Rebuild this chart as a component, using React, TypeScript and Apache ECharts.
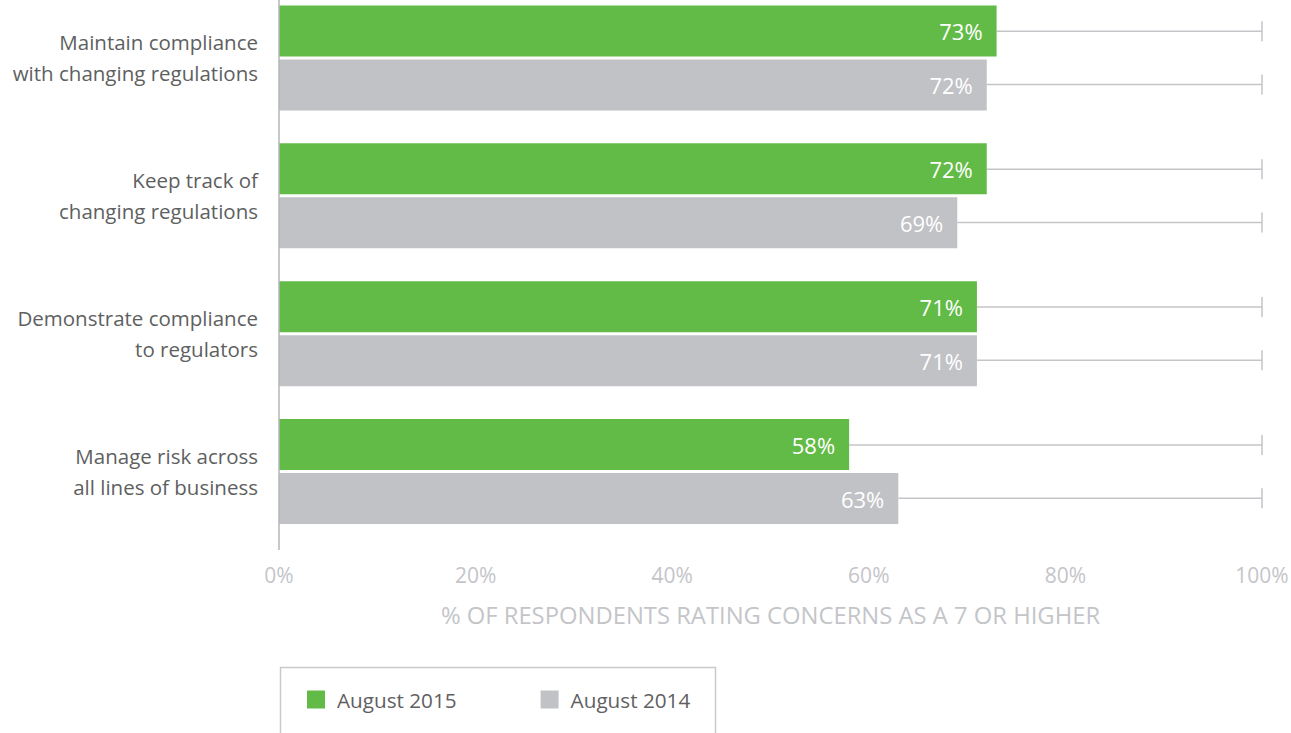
import React, { useEffect, useRef } from "react";
import * as echarts from "echarts";

const categories = [
  "Maintain compliance\nwith changing regulations",
  "Keep track of\nchanging regulations",
  "Demonstrate compliance\nto regulators",
  "Manage risk across\nall lines of business",
];
const august2015 = [73, 72, 71, 58];
const august2014 = [72, 69, 71, 63];
const xTicks = [0, 20, 40, 60, 80, 100];
const seriesNames = ["August 2015", "August 2014"];

const GREEN = "#62bb46";
const GRAY = "#c1c2c5";
const FONT = "'Open Sans', 'Noto Sans', sans-serif";

function trackSeries(values: number[], sign: number) {
  return {
    type: "custom",
    silent: true,
    z: 1,
    data: values.map((v, i) => [v, i]),
    encode: { x: 0, y: 1 },
    renderItem: (params: any, api: any) => {
      const v = api.value(0);
      const c = api.value(1);
      const start = api.coord([v, c]);
      const end = api.coord([100, c]);
      const band = api.size([0, 1])[1];
      const y = start[1] + sign * band * 0.193;
      return {
        type: "group",
        children: [
          {
            type: "line",
            shape: { x1: start[0], y1: y, x2: end[0], y2: y },
            style: { stroke: "#c4c5c8", lineWidth: 1.5 },
          },
          {
            type: "line",
            shape: { x1: end[0], y1: y - 10, x2: end[0], y2: y + 10 },
            style: { stroke: "#c4c5c8", lineWidth: 1.5 },
          },
        ],
      };
    },
  };
}

export default function App() {
  const ref = useRef<HTMLDivElement>(null);
  useEffect(() => {
    if (!ref.current) return;
    const chart = echarts.init(ref.current, null, { renderer: "svg" });
    const barLabel = {
      show: true,
      position: "insideRight",
      distance: 14,
      color: "#ffffff",
      fontSize: 22,
      fontFamily: FONT,
      formatter: "{c}%",
    };
    chart.setOption({
      animation: false,
      textStyle: { fontFamily: FONT },
      grid: {
        left: 279,
        right: 29,
        top: -11,
        height: 551.5,
        containLabel: false,
        outerBoundsMode: "none",
      },
      legend: {
        left: 307,
        top: 689,
        padding: 0,
        itemWidth: 18,
        itemHeight: 18,
        itemGap: 84,
        icon: "rect",
        data: seriesNames,
        textStyle: { fontSize: 20.7, color: "#5f6062", fontFamily: FONT, padding: [0, 0, 0, 7] },
      },
      xAxis: {
        type: "value",
        min: 0,
        max: 100,
        interval: 20,
        axisLine: { show: false },
        axisTick: { show: false },
        splitLine: { show: false },
        axisLabel: {
          fontSize: 21,
          color: "#c4c5c9",
          margin: 24,
          fontFamily: FONT,
          formatter: (v: number) => (xTicks.includes(v) ? v + "%" : ""),
        },
        name: "% OF RESPONDENTS RATING CONCERNS AS A 7 OR HIGHER",
        nameLocation: "middle",
        nameGap: 62,
        nameTextStyle: { fontSize: 23.8, color: "#c4c5c9", fontFamily: FONT },
      },
      yAxis: {
        type: "category",
        inverse: true,
        data: categories,
        axisLine: { show: false },
        axisTick: { show: false },
        axisLabel: {
          fontSize: 20.5,
          lineHeight: 31,
          color: "#5e5f61",
          margin: 21,
          align: "right",
          fontFamily: FONT,
        },
      },
      graphic: [
        {
          type: "line",
          shape: { x1: 279, y1: 0, x2: 279, y2: 550 },
          style: { stroke: "#b5b6b9", lineWidth: 1.5 },
          z: 10,
        },
        {
          type: "rect",
          shape: { x: 280.5, y: 667.5, width: 435, height: 100 },
          style: { fill: "none", stroke: "#c8c9cc", lineWidth: 1.5 },
          z: -1,
        },
      ],
      series: [
        {
          name: seriesNames[0],
          type: "bar",
          data: august2015,
          barWidth: 51,
          barGap: "6%",
          itemStyle: { color: GREEN },
          z: 3,
          label: barLabel,
        },
        {
          name: seriesNames[1],
          type: "bar",
          data: august2014,
          barWidth: 51,
          barGap: "6%",
          itemStyle: { color: GRAY },
          z: 3,
          label: barLabel,
        },
        trackSeries(august2015, -1),
        trackSeries(august2014, 1),
      ],
    });
    return () => chart.dispose();
  }, []);
  return <div ref={ref} style={{ width: 1291, height: 733, position: "absolute", left: 0, top: 0 }} />;
}
